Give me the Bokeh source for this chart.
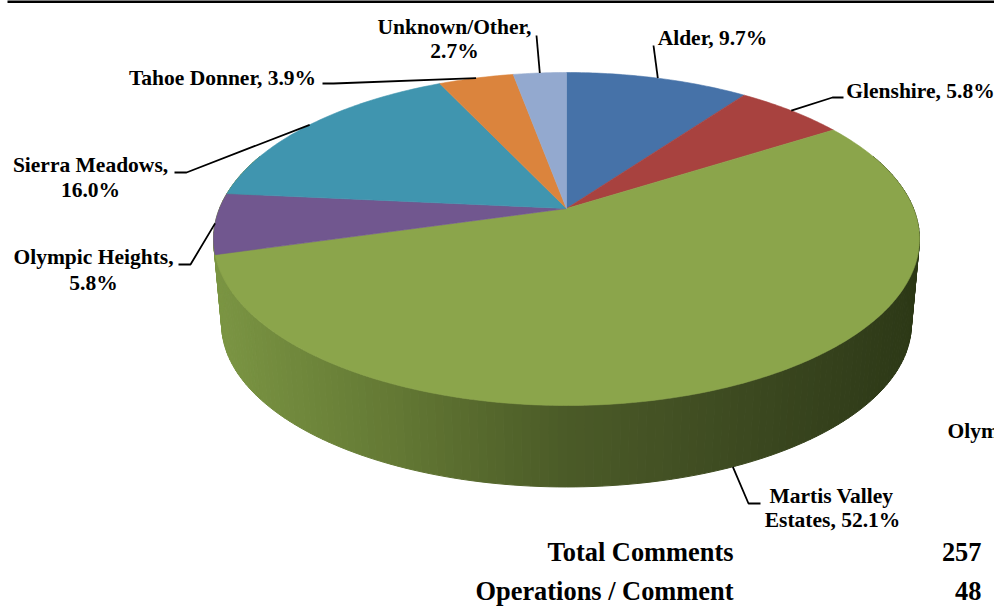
import numpy as np
from bokeh.plotting import figure
from bokeh.models import Range1d
from bokeh.core.properties import value
from bokeh.embed import file_html
from bokeh.resources import INLINE

# ---------- data ----------
regions = ["Alder", "Glenshire", "Martis Valley Estates", "Olympic Heights",
           "Sierra Meadows", "Tahoe Donner", "Unknown/Other"]
printed_pct = [9.7, 5.8, 52.1, 5.8, 16.0, 3.9, 2.7]      # as the labels print them
drawn_share = [10.0, 6.0, 54.6, 5.9, 16.5, 4.1, 2.9]     # slice sizes
slice_colors = ["#4672A8", "#A8423F", "#8BA54B", "#71578F", "#4095AF", "#DB843D", "#93A9CF"]
summary_names = ["Total Comments", "Operations / Comment"]
summary_values = ["257", "48"]

# ---------- layout (pixels) ----------
W, H = 994, 606
CX, APEX_Y = 566.0, 208.0
K, A, B = 0.1832, 160.9, 347.0
BOTTOM_SCALE, BOTTOM_APEX_Y = 0.977, 294.0
FONT = value("Liberation Serif")


def project(theta, scale=1.0, apex_y=APEX_Y):
    """Perspective view of a point on the pie's rim; theta is clockwise from 12 o'clock."""
    u, v = np.sin(theta), np.cos(theta)
    d = 1 + K * v
    return CX + scale * B * u / d, apex_y - scale * A * v / d


p = figure(width=W, height=H, x_range=Range1d(0, W), y_range=Range1d(H, 0),
           output_backend="svg", toolbar_location=None, min_border=0,
           x_axis_type=None, y_axis_type=None, outline_line_color=None,
           background_fill_color="white", border_fill_color="white")
p.grid.visible = False
p.styles = {"position": "absolute", "left": "0px", "top": "0px"}

# top rule
p.segment([7], [1], [W], [1], line_color="black", line_width=3)

# side wall: narrow facets between the two rims, shaded by horizontal position
stop_x = [213, 300, 400, 500, 566, 650, 750, 850, 919]
stop_r = [0x7C, 0x70, 0x63, 0x54, 0x4B, 0x45, 0x3C, 0x33, 0x2C]
stop_g = [0x96, 0x88, 0x78, 0x66, 0x5B, 0x53, 0x49, 0x3F, 0x38]
stop_b = [0x44, 0x3C, 0x34, 0x2C, 0x28, 0x25, 0x20, 0x1B, 0x16]
edges = np.linspace(np.pi / 2 - 0.35, 3 * np.pi / 2 + 0.35, 181)
xs, ys, cols = [], [], []
for t0, t1 in zip(edges[:-1], edges[1:]):
    x0, y0 = project(t0)
    x1, y1 = project(t1)
    x2, y2 = project(t1, BOTTOM_SCALE, BOTTOM_APEX_Y)
    x3, y3 = project(t0, BOTTOM_SCALE, BOTTOM_APEX_Y)
    xs.append([x0, x1, x2, x3])
    ys.append([y0, y1, y2, y3])
    xm = (x0 + x1 + x2 + x3) / 4
    cols.append("#%02x%02x%02x" % (int(np.interp(xm, stop_x, stop_r)),
                                   int(np.interp(xm, stop_x, stop_g)),
                                   int(np.interp(xm, stop_x, stop_b))))
p.patches(xs, ys, fill_color=cols, line_color=cols, line_width=1)

# top disc: slices from the values
share = np.array(drawn_share, dtype=float)
cum = np.concatenate([[0], np.cumsum(share)]) / share.sum() * 2 * np.pi
mids = (cum[:-1] + cum[1:]) / 2
for i, col in enumerate(slice_colors):
    th = np.linspace(cum[i], cum[i + 1], max(4, int(share[i] * 5)))
    rx, ry = project(th)
    p.patch(np.r_[CX, rx], np.r_[APEX_Y, ry], fill_color=col, line_color=col, line_width=0.6)

# leader lines: start at each slice's rim midpoint, end at a fixed elbow by the label
leader_via = [[(653, 45)],
              [(832, 97), (843, 97)],
              [(748, 503), (760, 503)],
              [(190, 264), (178, 264)],
              [(186, 172), (174, 172)],
              [(333, 83), (322, 83)],
              [(536, 35)]]
for i, via in enumerate(leader_via):
    if i == 2:
        ax, ay = project(mids[i], BOTTOM_SCALE, BOTTOM_APEX_Y)
    else:
        ax, ay = project(mids[i])
    p.line([ax] + [q[0] for q in via], [ay] + [q[1] for q in via],
           line_color="black", line_width=1.8)


def label(x, y, text, size, align="center"):
    p.text([x], [y], text=[text], text_font=FONT, text_font_style="bold",
           text_font_size=f"{size}px", text_align=align, text_baseline="middle",
           text_color="black")


LAB = 21.5
label(454, 26, "Unknown/Other,", LAB)
label(454, 50, f"{printed_pct[6]}%", LAB)
label(222, 77, f"{regions[5]}, {printed_pct[5]}%", LAB)
label(90, 164, f"{regions[4]},", LAB)
label(90, 189, f"{printed_pct[4]:.1f}%", LAB)
label(93, 256, f"{regions[3]},", LAB)
label(93, 282, f"{printed_pct[3]}%", LAB)
label(712, 37, f"{regions[0]}, {printed_pct[0]}%", LAB)
label(920, 90, f"{regions[1]}, {printed_pct[1]}%", LAB)
label(831, 495, "Martis Valley", LAB)
label(832, 519, f"Estates, {printed_pct[2]}%", LAB)
label(947, 430, "Olym", LAB, "left")
label(733, 551, summary_names[0], 26.4, "right")
label(733, 590, summary_names[1], 26.4, "right")
label(981, 551, summary_values[0], 26.4, "right")
label(981, 590, summary_values[1], 26.4, "right")

open("out.html", "w").write(file_html(p, INLINE))
